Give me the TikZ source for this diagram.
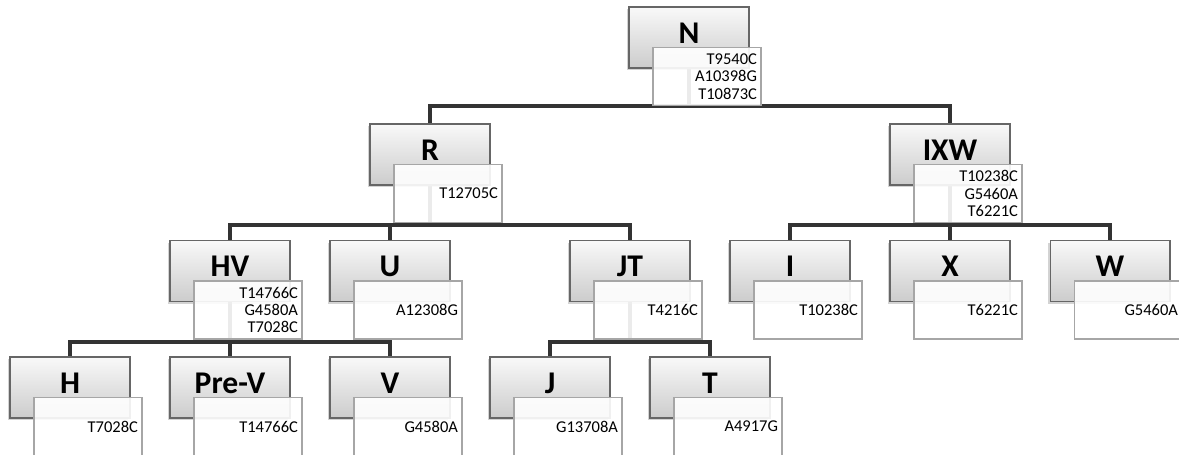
\documentclass[tikz,border=0pt]{standalone}
\usepackage{fontspec}
\setmainfont{Carlito}
\usepackage{xcolor}
\usepackage{tikz}
\usetikzlibrary{positioning,backgrounds,shadows}

\definecolor{linkgray}{HTML}{333333}
\definecolor{boxedge}{HTML}{666666}

\begin{document}
\begin{tikzpicture}[x=0.02cm, y=-0.02cm,
    hgroup/.style={draw=boxedge, line width=0.6pt, top color=gray!5, bottom color=gray!40,
      minimum width=2.4cm, minimum height=1.22cm, inner sep=0pt,
      text height=0.4cm, text depth=0.18cm,
      font=\fontsize{18}{18}\selectfont\bfseries,
      drop shadow={shadow xshift=-0.04cm, shadow yshift=-0.04cm, opacity=0.35}},
    mutbox/.style={draw=gray!70, line width=0.6pt, fill=white, fill opacity=0.9, text opacity=1,
      minimum width=2.16cm, minimum height=1.16cm, inner xsep=0.08cm, inner ysep=0.1cm,
      text width=2.0cm, align=right, font=\fontsize{9.4}{9.8}\selectfont},
    link/.style={draw=linkgray, line width=2pt}]
  \path[use as bounding box, clip] (0,0) rectangle (1179,454);

  % level 1
  \node[hgroup] (N) at (689,37.5) {N};
  \node[mutbox] (N-m) at ([shift={(18,39)}]N.center) {T9540C\\A10398G\\T10873C};

  % level 2
  \node[hgroup] (R) at (430,154.5) {R};
  \node[mutbox] (R-m) at ([shift={(18,39)}]R.center) {T12705C};
  \node[hgroup] (IXW) at (950,154.5) {IXW};
  \node[mutbox] (IXW-m) at ([shift={(18,39)}]IXW.center) {T10238C\\G5460A\\T6221C};

  % level 3
  \node[hgroup] (HV) at (230,271) {HV};
  \node[mutbox] (HV-m) at ([shift={(18,39)}]HV.center) {T14766C\\G4580A\\T7028C};
  \node[hgroup] (U) at (390,271) {U};
  \node[mutbox] (U-m) at ([shift={(18,39)}]U.center) {A12308G};
  \node[hgroup] (JT) at (630,271) {JT};
  \node[mutbox] (JT-m) at ([shift={(18,39)}]JT.center) {T4216C};
  \node[hgroup] (I) at (790,271) {I};
  \node[mutbox] (I-m) at ([shift={(18,39)}]I.center) {T10238C};
  \node[hgroup] (X) at (950,271) {X};
  \node[mutbox] (X-m) at ([shift={(18,39)}]X.center) {T6221C};
  \node[hgroup] (W) at (1110,271) {W};
  \node[mutbox] (W-m) at ([shift={(18,39)}]W.center) {G5460A};

  % level 4
  \node[hgroup] (H) at (70,387.5) {H};
  \node[mutbox] (H-m) at ([shift={(18,39)}]H.center) {T7028C};
  \node[hgroup] (PreV) at (230,387.5) {Pre-V};
  \node[mutbox] (PreV-m) at ([shift={(18,39)}]PreV.center) {T14766C};
  \node[hgroup] (V) at (390,387.5) {V};
  \node[mutbox] (V-m) at ([shift={(18,39)}]V.center) {G4580A};
  \node[hgroup] (J) at (550,387.5) {J};
  \node[mutbox] (J-m) at ([shift={(18,39)}]J.center) {G13708A};
  \node[hgroup] (T) at (710,387.5) {T};
  \node[mutbox] (T-m) at ([shift={(18,39)}]T.center) {A4917G};

  % tree links
  \coordinate (barN) at (0,106);
  \coordinate (barR) at (0,225);
  \coordinate (barIXW) at (0,225);
  \coordinate (barHV) at (0,342);
  \coordinate (barJT) at (0,342);
  \begin{scope}[on background layer]
    \foreach \parent/\bar/\child in {N/barN/R, N/barN/IXW,
        R/barR/HV, R/barR/U, R/barR/JT,
        IXW/barIXW/I, IXW/barIXW/X, IXW/barIXW/W,
        HV/barHV/H, HV/barHV/PreV, HV/barHV/V,
        JT/barJT/J, JT/barJT/T}
      \draw[link] (\parent.center) -- (\parent |- \bar) -| (\child.north);
  \end{scope}
\end{tikzpicture}
\end{document}
